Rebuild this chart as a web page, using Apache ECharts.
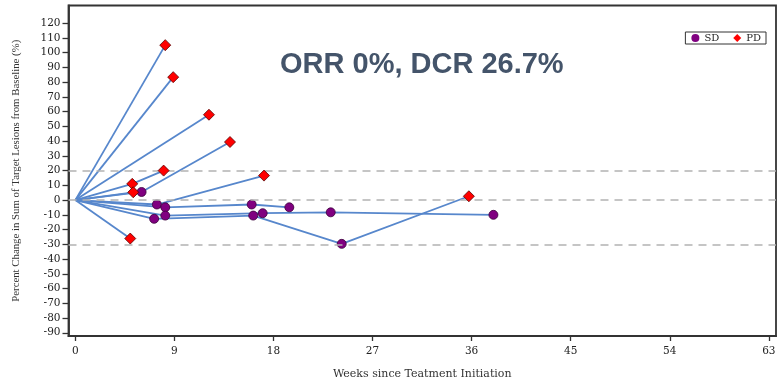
<!DOCTYPE html>
<html>
<head>
<meta charset="utf-8">
<script src="https://cdn.jsdelivr.net/npm/echarts@6/dist/echarts.min.js"></script>
<style>html,body{margin:0;padding:0;background:#fff;}#chart{width:779px;height:385px;}</style>
</head>
<body>
<div id="chart"></div>
<script>
// Each patient: weeks since treatment start, % change, response at each assessment
const patientWeeks = [
  [0, 8.17],
  [0, 8.89],
  [0, 12.14],
  [0, 6.02, 14.05],
  [0, 5.17, 8.02],
  [0, 5.26],
  [0, 7.41, 17.14],
  [0, 8.17, 16.02, 19.44],
  [0, 7.16, 16.16, 24.2, 35.75],
  [0, 8.17, 17.02, 23.2, 37.98],
  [0, 4.99]
];
const patientChange = [
  [0, 105.1],
  [0, 83.4],
  [0, 57.9],
  [0, 5.5, 39.4],
  [0, 11.0, 20.0],
  [0, 5.3],
  [0, -3.0, 16.6],
  [0, -4.9, -3.0, -4.9],
  [0, -12.7, -10.5, -29.7, 2.6],
  [0, -10.5, -8.9, -8.3, -10.0],
  [0, -26.1]
];
const patientResponse = [
  ['', 'PD'],
  ['', 'PD'],
  ['', 'PD'],
  ['', 'SD', 'PD'],
  ['', 'PD', 'PD'],
  ['', 'PD'],
  ['', 'SD', 'PD'],
  ['', 'SD', 'SD', 'SD'],
  ['', 'SD', 'SD', 'SD', 'PD'],
  ['', 'SD', 'SD', 'SD', 'SD'],
  ['', 'PD']
];
const xTicks = [0, 9, 18, 27, 36, 45, 54, 63];
const yTicks = [-90, -80, -70, -60, -50, -40, -30, -20, -10, 0, 10, 20, 30, 40, 50, 60, 70, 80, 90, 100, 110, 120];
const refLines = [20, 0, -30];
const titleText = 'ORR 0%, DCR 26.7%';

const series = [];
series.push({
  type: 'line', data: [], z: 1, silent: true,
  markLine: {
    silent: true, symbol: 'none', label: { show: false },
    lineStyle: { type: [8, 6], color: '#b3b3b3', width: 1.5 },
    data: refLines.map(v => ({ yAxis: v }))
  }
});
patientWeeks.forEach((w, i) => {
  series.push({
    type: 'line', z: 2, silent: true, symbol: 'none',
    lineStyle: { color: '#5787cc', width: 1.8 },
    data: w.map((x, j) => [x, patientChange[i][j]])
  });
});
const sdPts = [], pdPts = [];
patientWeeks.forEach((w, i) => {
  w.forEach((x, j) => {
    const r = patientResponse[i][j];
    if (r === 'SD') sdPts.push([x, patientChange[i][j]]);
    if (r === 'PD') pdPts.push([x, patientChange[i][j]]);
  });
});
series.push({
  name: 'SD', type: 'scatter', z: 4, symbol: 'circle', symbolSize: 9,
  itemStyle: { color: '#800080', borderColor: '#3a003a', borderWidth: 0.8, opacity: 1 },
  data: sdPts
});
series.push({
  name: 'PD', type: 'scatter', z: 5, symbol: 'diamond', symbolSize: 11,
  itemStyle: { color: '#ff0000', borderColor: '#5a0000', borderWidth: 0.8, opacity: 1 },
  data: pdPts
});

const chart = echarts.init(document.getElementById('chart'), null, { renderer: 'canvas' });
chart.setOption({
  animation: false,
  backgroundColor: '#fff',
  grid: { left: 68.5, right: 3, top: 5.5, bottom: 48, show: true, borderColor: '#333', borderWidth: 1.8, backgroundColor: 'transparent' },
  legend: {
    data: [
      { name: 'SD', itemStyle: { borderWidth: 0 } },
      { name: 'PD', itemStyle: { borderWidth: 0 } }
    ],
    right: 13, top: 32,
    borderColor: '#333', borderWidth: 1, padding: [1, 5, 1, 6], itemGap: 14,
    itemWidth: 8, itemHeight: 8,
    textStyle: { fontFamily: 'DejaVu Serif', fontSize: 10, color: '#222' }
  },
  graphic: [{
    type: 'text', left: 280, top: 50, z: 10,
    style: { text: titleText, font: 'bold 29px "Liberation Sans", Arial, sans-serif', fill: '#44546a' }
  }],
  xAxis: {
    type: 'value', min: -0.62, max: 63.65,
    name: 'Weeks since Teatment Initiation', nameLocation: 'middle', nameGap: 33,
    nameTextStyle: { fontFamily: 'DejaVu Serif', fontSize: 11, color: '#333' },
    axisLine: { show: true, onZero: false, lineStyle: { color: '#333', width: 1.8 } },
    axisTick: { show: true, length: 5, customValues: xTicks, lineStyle: { color: '#333', width: 1.3 } },
    axisLabel: { customValues: xTicks, margin: 10, fontFamily: 'DejaVu Serif', fontSize: 10.5, color: '#222' },
    splitLine: { show: false }
  },
  yAxis: {
    type: 'value', min: -92.2, max: 132,
    name: 'Percent Change in Sum of Target Lesions from Baseline (%)', nameLocation: 'middle', nameGap: 47,
    nameTextStyle: { fontFamily: 'Liberation Serif', fontSize: 10.8, color: '#333' },
    axisLine: { show: true, onZero: false, lineStyle: { color: '#333', width: 1.8 } },
    axisTick: { show: true, length: 6, customValues: yTicks, lineStyle: { color: '#333', width: 1.3 } },
    axisLabel: { customValues: yTicks, margin: 8, fontFamily: 'DejaVu Serif', fontSize: 10.5, color: '#222' },
    splitLine: { show: false }
  },
  series: series
});
</script>
</body>
</html>
